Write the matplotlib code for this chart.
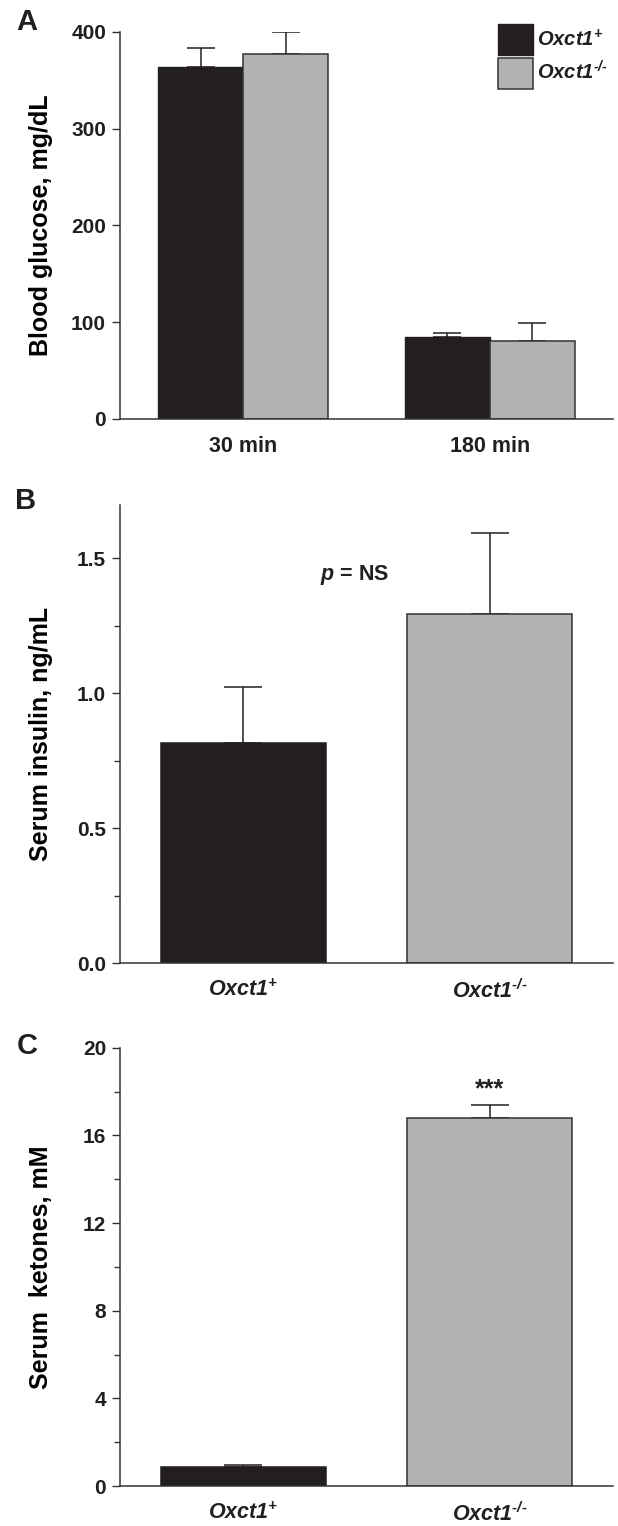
import matplotlib
matplotlib.use("Agg")
import matplotlib.pyplot as plt
import numpy as np

# data
time_points = ['30 min', '180 min']
glucose_wt = [364, 85]
glucose_wt_err = [19, 3.5]
glucose_ko = [377, 81]
glucose_ko_err = [23, 18]

genotypes = [r'$Oxct1^{+}$', '$Oxct1^{\u2010/\u2010}$']
insulin = [0.815, 1.295]
insulin_err = [0.21, 0.30]
ketones = [0.85, 16.8]
ketones_err = [0.12, 0.6]

BLACK = '#231f20'
GREY = '#b1b2b4'
EDGE = '#333333'

plt.rcParams['font.family'] = ['Liberation Sans', 'DejaVu Sans']
plt.rcParams['font.weight'] = 'bold'
# bold italic for the genotype names (digits included)
plt.rcParams['mathtext.fontset'] = 'custom'
plt.rcParams['mathtext.rm'] = 'Liberation Sans:bold:italic'
plt.rcParams['mathtext.it'] = 'Liberation Sans:bold:italic'
plt.rcParams['mathtext.bf'] = 'Liberation Sans:bold'
plt.rcParams['text.color'] = BLACK

W, H = 618, 1526
fig = plt.figure(figsize=(W / 100, H / 100), dpi=100)


def make_axes(top_px, bottom_px):
    left, right = 120 / W, 613 / W
    ax = fig.add_axes([left, 1 - bottom_px / H, right - left, (bottom_px - top_px) / H])
    for s in ['top', 'right']:
        ax.spines[s].set_visible(False)
    for s in ['left', 'bottom']:
        ax.spines[s].set_linewidth(1.1)
        ax.spines[s].set_color(EDGE)
    ax.tick_params(axis='y', which='major', length=6, width=1.0, color=EDGE,
                   labelsize=15, pad=4, labelcolor=BLACK)
    ax.tick_params(axis='y', which='minor', length=4, width=1.0, color=EDGE)
    ax.tick_params(axis='x', length=0, labelsize=15.5, pad=12, labelcolor=BLACK)
    ax.set_xlim(-0.5, 1.5)
    ax.yaxis.set_label_coords(-0.136, 0.5)
    return ax


# ---- Panel A: blood glucose ----
axA = make_axes(31.7, 419)
x = np.arange(len(time_points))
w = 0.345
axA.bar(x - w / 2, glucose_wt, w, color=BLACK, edgecolor=BLACK, linewidth=1, label=genotypes[0], zorder=2)
axA.bar(x + w / 2, glucose_ko, w, color=GREY, edgecolor=EDGE, linewidth=1.1, label=genotypes[1], zorder=2)
axA.errorbar(x - w / 2, glucose_wt, yerr=[np.zeros(2), glucose_wt_err], fmt='none',
             ecolor=BLACK, elinewidth=1.1, capsize=10, capthick=1.1, zorder=1)
axA.errorbar(x + w / 2, glucose_ko, yerr=[np.zeros(2), glucose_ko_err], fmt='none',
             ecolor=BLACK, elinewidth=1.1, capsize=10, capthick=1.1, zorder=1)
axA.set_ylim(0, 400)
axA.set_yticks([0, 100, 200, 300, 400])
axA.set_xticks(x)
axA.set_xticklabels(time_points)
axA.set_ylabel('Blood glucose, mg/dL', fontsize=18, fontweight='bold')
axA.legend(loc='upper left', bbox_to_anchor=(498 / W, 1 - 24 / H), bbox_transform=fig.transFigure,
           frameon=False, fontsize=14.5, handlelength=1.74, handleheight=2.0,
           handletextpad=0.22, labelspacing=0.12, borderpad=0, borderaxespad=0)

# ---- Panel B: serum insulin ----
axB = make_axes(504.5, 963)
g = np.arange(len(genotypes))
wb = 0.67
axB.bar(g, insulin, wb, color=[BLACK, GREY], edgecolor=[BLACK, EDGE], linewidth=1.1, zorder=2)
axB.errorbar(g, insulin, yerr=[np.zeros(2), insulin_err], fmt='none',
             ecolor=BLACK, elinewidth=1.1, capsize=14, capthick=1.1, zorder=1)
axB.set_ylim(0, 1.7)
axB.set_yticks([0, 0.5, 1.0, 1.5])
axB.set_yticklabels(['0.0', '0.5', '1.0', '1.5'])
axB.set_yticks([0.25, 0.75, 1.25], minor=True)
axB.set_xticks(g)
axB.set_xticklabels(genotypes)
axB.set_ylabel('Serum insulin, ng/mL', fontsize=18, fontweight='bold')
axB.text(0.45, 1.44, r'$p$ = NS', fontsize=15.5, fontweight='bold', ha='center', va='center')

# ---- Panel C: serum ketones ----
axC = make_axes(1047.7, 1486)
axC.bar(g, ketones, wb, color=[BLACK, GREY], edgecolor=[BLACK, EDGE], linewidth=1.1, zorder=2)
axC.errorbar(g, ketones, yerr=[np.zeros(2), ketones_err], fmt='none',
             ecolor=BLACK, elinewidth=1.1, capsize=14, capthick=1.1, zorder=1)
axC.set_ylim(0, 20)
axC.set_yticks([0, 4, 8, 12, 16, 20])
axC.set_yticks([2, 6, 10, 14, 18], minor=True)
axC.set_xticks(g)
axC.set_xticklabels(genotypes)
axC.set_ylabel('Serum  ketones, mM', fontsize=18, fontweight='bold')
axC.text(g[1], ketones[1] + ketones_err[1] + 0.15, '***', fontsize=18, fontweight='bold',
         ha='center', va='bottom')

# panel letters
fig.text(16 / W, 1 - 22 / H, 'A', fontsize=21, fontweight='bold', va='center')
fig.text(15 / W, 1 - 501 / H, 'B', fontsize=21, fontweight='bold', va='center')
fig.text(17 / W, 1 - 1046 / H, 'C', fontsize=21, fontweight='bold', va='center')

fig.savefig('out.png', dpi=100)
